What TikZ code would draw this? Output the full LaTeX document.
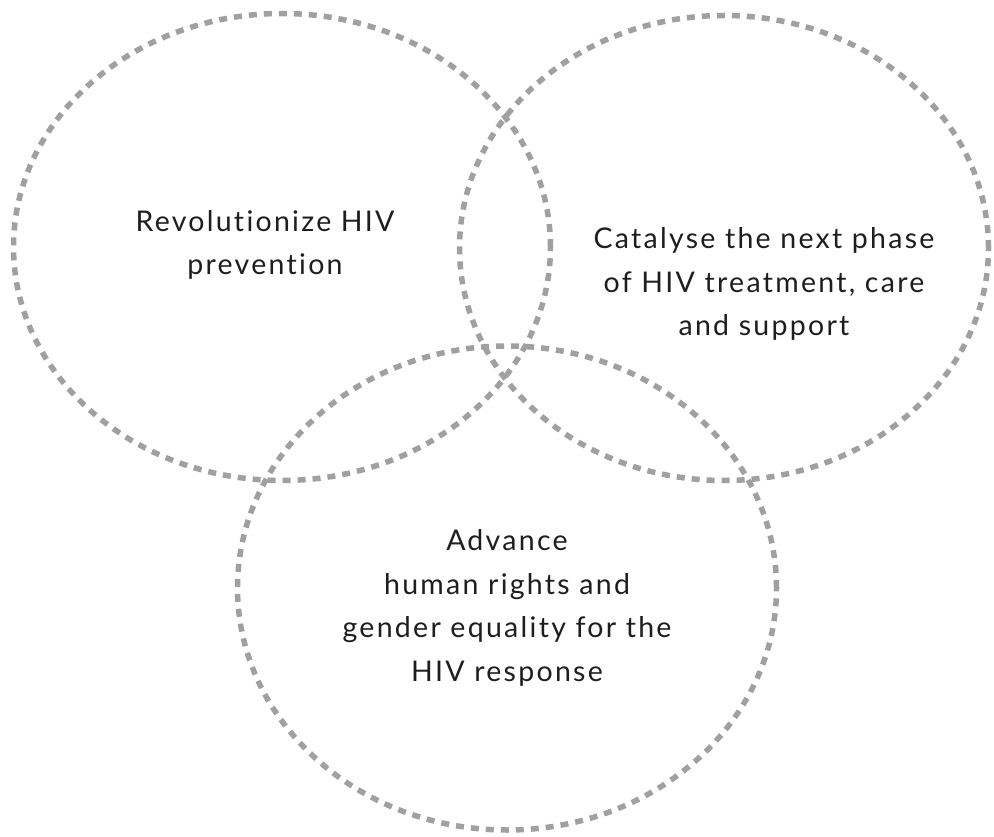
\documentclass[tikz,border=0pt]{standalone}
\usepackage{fontspec}
\setmainfont{Lato}[LetterSpace=8, Ligatures=CommonOff]
\usetikzlibrary{shapes,positioning}
\definecolor{ringgray}{HTML}{A0A0A0}
\definecolor{textdark}{HTML}{1E1E1E}
\tikzset{
ringnode/.style={ellipse, draw=ringgray, line width=5.5pt, dash pattern=on 8pt off 7pt, inner sep=0pt},
labelnode/.style={align=center, text=textdark, font=\fontsize{28.5}{43.5}\selectfont}
}

\begin{document}
\begin{tikzpicture}[x=1pt, y=-1pt]

\useasboundingbox (0,0) rectangle (994,837);

%Venn circles
\node[ringnode, minimum width=537pt, minimum height=467pt] (prevention) at(282,247) {};
\node[ringnode, minimum width=529pt, minimum height=465pt] (treatment) at(724,248) {};
\node[ringnode, minimum width=539pt, minimum height=484pt] (rights) at(507,588) {};

%Labels
\node[labelnode] (preventionText) at(265,245) {Revolutionize HIV\\ prevention};
\node[labelnode] (treatmentText) at(764,284) {Catalyse the next phase\\ of HIV treatment, care\\ and support};
\node[labelnode] (rightsText) at(507,608) {Advance\\ human rights and\\ gender equality for the\\ HIV response};

\end{tikzpicture}
\end{document}
